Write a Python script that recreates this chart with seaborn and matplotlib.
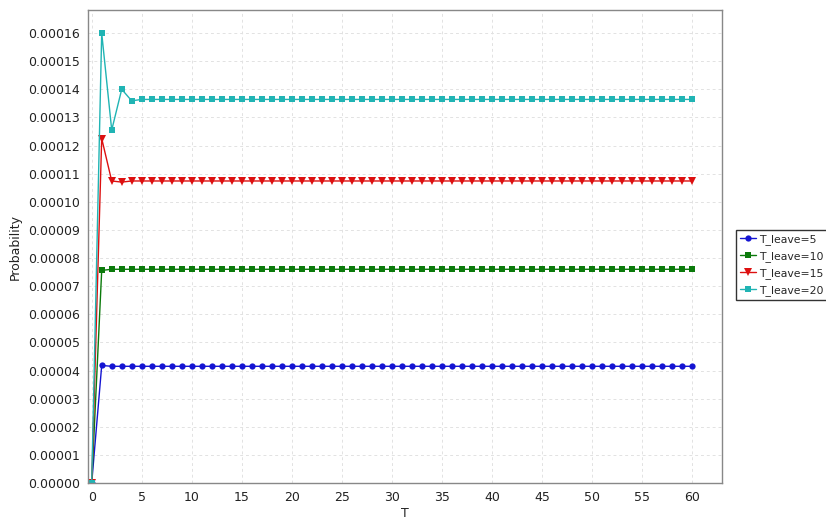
import numpy as np
import pandas as pd
import matplotlib
matplotlib.use("Agg")
import matplotlib.pyplot as plt
import seaborn as sns
from matplotlib.ticker import FormatStrFormatter, MultipleLocator

# =========================
# DATA
# =========================

t_values = list(range(0, 61))

# first few points differ, then the series stay flat
p_leave5 = [0.0, 4.18e-5] + [4.15e-5] * 59
p_leave10 = [0.0, 7.56e-5] + [7.60e-5] * 59
p_leave15 = [0.0, 1.225e-4, 1.074e-4, 1.070e-4] + [1.074e-4] * 57
p_leave20 = [0.0, 1.600e-4, 1.255e-4, 1.400e-4, 1.359e-4] + [1.364e-4] * 56

series_names = ["T_leave=5", "T_leave=10", "T_leave=15", "T_leave=20"]
series_values = [p_leave5, p_leave10, p_leave15, p_leave20]

rows = []
for name, vals in zip(series_names, series_values):
    for t, p in zip(t_values, vals):
        rows.append({"T": t, "Probability": p, "series": name})
df = pd.DataFrame(rows)

# =========================
# PLOT
# =========================

sns.set_theme(style="white")
plt.rcParams["font.family"] = ["DejaVu Sans"]

fig = plt.figure(figsize=(8.26, 5.30), dpi=100)
ax = fig.add_axes([88 / 826, 1 - 483 / 530, (722 - 88) / 826, (483 - 10) / 530])

palette = {"T_leave=5": "#1414d2", "T_leave=10": "#0b7a0b",
           "T_leave=15": "#dd1010", "T_leave=20": "#20b4b4"}
markers = {"T_leave=5": "o", "T_leave=10": "s",
           "T_leave=15": "v", "T_leave=20": "s"}
sizes = {"T_leave=5": 4.5, "T_leave=10": 5, "T_leave=15": 5.5, "T_leave=20": 4}

for name in series_names:
    sub = df[df["series"] == name]
    sns.lineplot(data=sub, x="T", y="Probability", ax=ax, color=palette[name],
                 marker=markers[name], markersize=sizes[name], markeredgewidth=0,
                 linewidth=1, label=name)

ax.set_xlim(-0.37, 63)
ax.set_ylim(0, 0.0001682)
ax.xaxis.set_major_locator(MultipleLocator(5))
ax.yaxis.set_major_locator(MultipleLocator(0.00001))
ax.yaxis.set_major_formatter(FormatStrFormatter("%.5f"))

ax.grid(True, color="#e2e2e2", linestyle=(0, (3, 3)), linewidth=0.7)
for side in ax.spines.values():
    side.set_color("#888888")
    side.set_linewidth(1)
ax.tick_params(axis="both", direction="out", length=4, width=1, color="#888888",
               labelsize=9, labelcolor="#222222", pad=2)

ax.set_xlabel("T", fontsize=9, color="#222222", labelpad=2)
ax.set_ylabel("Probability", fontsize=9, color="#222222", labelpad=4)

leg = ax.legend(loc="center left", bbox_to_anchor=(736 / 826, 1 - 265 / 530),
                bbox_transform=fig.transFigure, frameon=True, fancybox=False,
                fontsize=7.8, handlelength=1.4, handletextpad=0.3,
                borderpad=0.4, labelspacing=0.55, borderaxespad=0)
leg.get_frame().set_edgecolor("black")
leg.get_frame().set_linewidth(1)

fig.savefig("out.png", dpi=100)
